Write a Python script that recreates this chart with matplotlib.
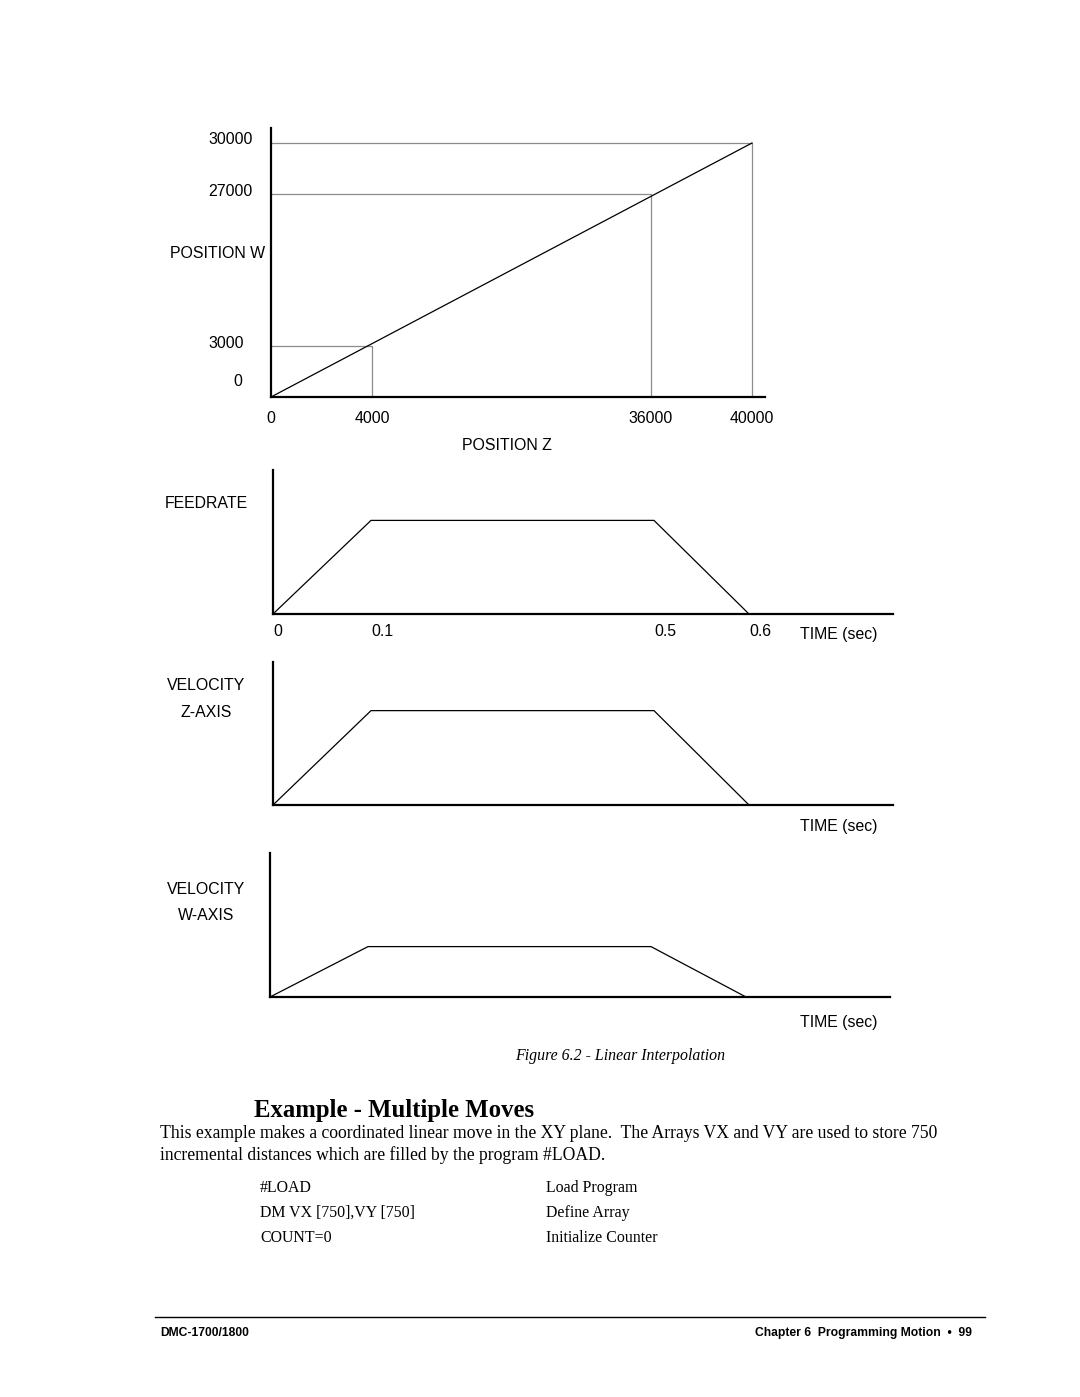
import numpy as np
import matplotlib
matplotlib.use('Agg')
import matplotlib.pyplot as plt
from matplotlib.lines import Line2D

W, H = 1080, 1397

# position plot (schematic, not drawn to scale)
pos_z_ticks = [0, 4000, 36000, 40000]
pos_w_ticks = [0, 3000, 27000, 30000]
path_z = [0, 40000]
path_w = [0, 30000]
mark_z = [4000, 36000, 40000]
mark_w = [3000, 27000, 30000]

# speed profiles (relative heights)
time_ticks = [0, 0.1, 0.5, 0.6]
time_labels = ['0', '0.1', '0.5', '0.6']
profile_t = [0, 0.1, 0.5, 0.6]
feedrate = [0, 0.65, 0.65, 0]
vel_z = [0, 0.66, 0.66, 0]
vel_w = [0, 0.35, 0.35, 0]

sans = ['Liberation Sans', 'DejaVu Sans']
serif = ['Liberation Serif', 'DejaVu Serif']
plt.rcParams['font.family'] = sans
LBL = 11.4


def box(l, t, r, b):
    return [l / W, 1 - b / H, (r - l) / W, (b - t) / H]


def ftext(x, y, s, **kw):
    fig.text(x / W, 1 - y / H, s, **kw)


def piecewise(nodes, px):
    fwd = lambda v: np.interp(v, nodes, px)
    inv = lambda p: np.interp(p, px, nodes)
    return fwd, inv


def clean(ax):
    for s in ['top', 'right']:
        ax.spines[s].set_visible(False)
    for s in ['left', 'bottom']:
        ax.spines[s].set_linewidth(1.6)
        ax.spines[s].set_color('black')
    ax.set_facecolor('none')


fig = plt.figure(figsize=(W / 100, H / 100), dpi=100)

# ---- position W vs position Z
ax = fig.add_axes(box(271, 128, 765, 397))
clean(ax)
z_nodes, z_px = [0, 4000, 36000, 40000, 40500], [0, 101, 380, 481, 494]
w_nodes, w_px = [0, 3000, 27000, 30000, 31800], [0, 51, 203, 254, 269]
ax.set_xscale('function', functions=piecewise(z_nodes, z_px))
ax.set_yscale('function', functions=piecewise(w_nodes, w_px))
ax.set_xlim(z_nodes[0], z_nodes[-1])
ax.set_ylim(w_nodes[0], w_nodes[-1])
for z, w in zip(mark_z, mark_w):
    ax.plot([0, z, z], [w, w, 0], color='#8c8c8c', lw=0.9, clip_on=False)
ax.plot(path_z, path_w, color='black', lw=0.9, clip_on=False)
ax.set_xticks(pos_z_ticks, labels=[str(v) for v in pos_z_ticks])
ax.tick_params(axis='x', length=0, pad=10, labelsize=LBL)
ax.set_yticks([])
for v in pos_w_ticks:
    dx, dy = (-38, 16) if v == 0 else (-63, 3)
    ax.annotate(str(v), xy=(0, v), xycoords=('axes fraction', 'data'),
                xytext=(dx, dy), textcoords='offset pixels',
                ha='left', va='center', fontsize=LBL)
ftext(170, 254, 'POSITION W', ha='left', va='center', fontsize=LBL)
ftext(507, 445, 'POSITION Z', ha='center', va='center', fontsize=LBL)

# ---- speed profiles
t_nodes, t_px = [0, 0.1, 0.5, 0.6, 0.92], [0, 98, 381, 476, 620]
panels = [
    (box(273, 470, 893, 614), feedrate, ['FEEDRATE'], 504, 635, True),
    (box(273, 662, 893, 805), vel_z, ['VELOCITY', 'Z-AXIS'], 686, 826, False),
    (box(270, 853, 890, 997), vel_w, ['VELOCITY', 'W-AXIS'], 890, 1022, False),
]
for rect, vals, names, name_y, time_y, show_ticks in panels:
    ax = fig.add_axes(rect)
    clean(ax)
    ax.set_xscale('function', functions=piecewise(t_nodes, t_px))
    ax.set_xlim(t_nodes[0], t_nodes[-1])
    ax.set_ylim(0, 1)
    ax.plot(profile_t, vals, color='black', lw=0.9, clip_on=False)
    ax.set_yticks([])
    if show_ticks:
        ax.set_xticks(time_ticks, labels=time_labels)
        ax.tick_params(axis='x', length=0, pad=7, labelsize=LBL)
        for lbl in ax.get_xticklabels():
            lbl.set_ha('left')
    else:
        ax.set_xticks([])
    for i, name in enumerate(names):
        ftext(206, name_y + 26 * i, name, ha='center', va='center', fontsize=LBL)
    ftext(800, time_y, 'TIME (sec)', ha='left', va='center', fontsize=LBL)

ftext(620, 1056, 'Figure 6.2 - Linear Interpolation', ha='center', va='center',
      fontsize=11.4, style='italic', family=serif)

# ---- text below the figure
ftext(254, 1110, 'Example - Multiple Moves', ha='left', va='center',
      fontsize=17.8, weight='bold', family=serif)
ftext(160, 1134, 'This example makes a coordinated linear move in the XY plane.  '
      'The Arrays VX and VY are used to store 750', ha='left', va='center',
      fontsize=12.7, family=serif)
ftext(160, 1155, 'incremental distances which are filled by the program #LOAD.',
      ha='left', va='center', fontsize=12.7, family=serif)
code = ['#LOAD', 'DM VX [750],VY [750]', 'COUNT=0']
notes = ['Load Program', 'Define Array', 'Initialize Counter']
for i, (c, n) in enumerate(zip(code, notes)):
    ftext(260, 1188 + 25 * i, c, ha='left', va='center', fontsize=11.4, family=serif)
    ftext(546, 1188 + 25 * i, n, ha='left', va='center', fontsize=11.4, family=serif)

fig.add_artist(Line2D([155 / W, 985 / W], [1 - 1317 / H] * 2, color='black', lw=1))
ftext(160, 1333, 'DMC-1700/1800', ha='left', va='center', fontsize=8.7, weight='bold')
ftext(972, 1333, 'Chapter 6  Programming Motion  \u2022  99', ha='right', va='center',
      fontsize=8.7, weight='bold')

fig.savefig('out.png', dpi=100)
